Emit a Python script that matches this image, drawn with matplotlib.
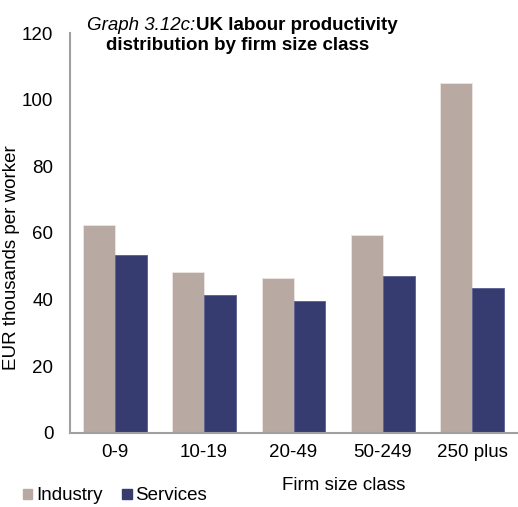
import matplotlib
matplotlib.use("Agg")
import matplotlib.pyplot as plt
import numpy as np
from matplotlib.patches import Patch

plt.rcParams['font.family'] = ['Liberation Sans', 'DejaVu Sans']

categories = ["0-9", "10-19", "20-49", "50-249", "250 plus"]
industry = [62.5, 48.3, 46.5, 59.5, 105.0]
services = [53.2, 41.3, 39.5, 46.9, 43.5]
y_ticks = [0, 20, 40, 60, 80, 100, 120]

col_ind = "#B8A9A2"
col_srv = "#363B70"
fs = 13.5

W, H = 518, 507
fig = plt.figure(figsize=(W / 100, H / 100), dpi=100)
ax = fig.add_axes([70 / W, (H - 432.7) / H, 447 / W, 399.7 / H])

x = np.arange(len(categories))
bw = 0.357
ax.bar(x - bw / 2, industry, width=bw, color=col_ind, edgecolor="#EDE6E3", linewidth=0.6)
ax.bar(x + bw / 2, services, width=bw, color=col_srv, edgecolor="#5A5F90", linewidth=0.6)

ax.set_xlim(-0.5, len(categories) - 0.5)
ax.set_ylim(0, 120)
ax.set_yticks(y_ticks)
ax.set_xticks(x)
ax.set_xticklabels(categories)
ax.tick_params(axis='both', length=0, labelsize=fs, colors="#000000")
ax.tick_params(axis='y', pad=12)
ax.tick_params(axis='x', pad=8)
for s in ["top", "right"]:
    ax.spines[s].set_visible(False)
for s in ["left", "bottom"]:
    ax.spines[s].set_color("#A0A0A0")
    ax.spines[s].set_linewidth(1.5)

fig.text(12 / W, 1 - 258 / H, "EUR thousands per worker", rotation=90,
         ha="center", va="center", fontsize=fs)
fig.text(344 / W, 1 - 485 / H, "Firm size class", ha="center", va="center", fontsize=fs)

# Title: italic label followed by bold heading
fig.text(195 / W, 1 - 30 / H, "Graph 3.12c:", style="italic", ha="right",
         va="baseline", fontsize=fs)
fig.text(196 / W, 1 - 30 / H, "UK labour productivity", weight="bold", ha="left",
         va="baseline", fontsize=fs)
fig.text(238 / W, 1 - 50 / H, "distribution by firm size class", weight="bold",
         ha="center", va="baseline", fontsize=fs)

handles = [Patch(color=col_ind, label="Industry"), Patch(color=col_srv, label="Services")]
fig.legend(handles=handles, loc="center left", bbox_to_anchor=(23 / W, 1 - 496 / H),
           ncol=2, frameon=False, fontsize=fs, handlelength=0.5, handleheight=0.5,
           handletextpad=0.2, columnspacing=1.05, borderaxespad=0, borderpad=0)

fig.savefig("out.png", dpi=100)
